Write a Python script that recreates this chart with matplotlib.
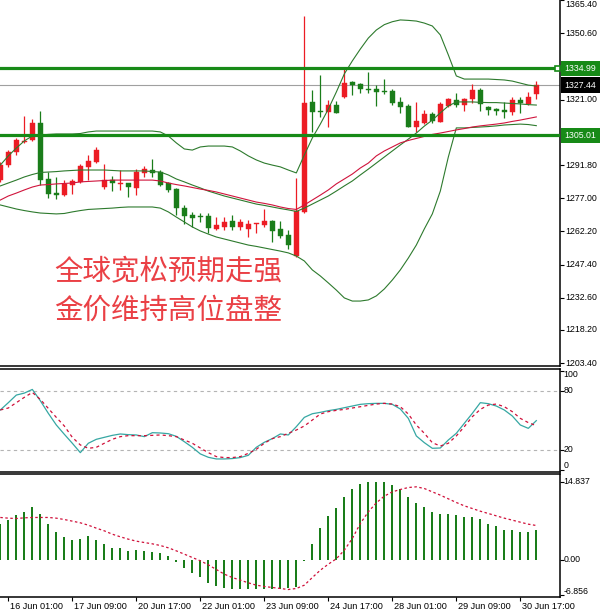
import numpy as np
import matplotlib
matplotlib.use('Agg')
import matplotlib.pyplot as plt
from matplotlib.transforms import blended_transform_factory

# ---------------- data (XAUUSD H4) ----------------
opens = [1285.1, 1291.8, 1297.6, 1301.9, 1303.0, 1310.5, 1285.5, 1279.5, 1278.4, 1282.9,
         1284.4, 1291.1, 1293.0, 1282.2, 1285.1, 1283.4, 1283.7, 1281.4, 1288.1, 1289.6,
         1288.8, 1283.7, 1281.0, 1272.5, 1269.5, 1268.8, 1269.1, 1263.3, 1264.3, 1266.8,
         1264.0, 1263.3, 1265.3, 1265.1, 1266.8, 1263.3, 1260.6, 1251.2, 1271.0, 1320.1,
         1315.9, 1315.4, 1318.6, 1322.1, 1328.8, 1328.0, 1325.8, 1325.6, 1324.9, 1324.9,
         1320.1, 1318.2, 1308.9, 1310.7, 1314.5, 1311.2, 1318.3, 1320.9, 1318.6, 1321.2,
         1325.3, 1317.6, 1316.8, 1316.4, 1315.6, 1320.9, 1319.1, 1323.4]
highs = [1293.2, 1298.5, 1303.9, 1313.7, 1312.2, 1315.9, 1288.8, 1286.4, 1285.1, 1285.6,
         1292.2, 1296.3, 1300.0, 1292.3, 1286.9, 1289.6, 1283.8, 1289.9, 1291.5, 1294.5,
         1289.6, 1284.4, 1281.4, 1274.0, 1271.0, 1270.5, 1270.5, 1268.8, 1268.8, 1269.5,
         1267.6, 1267.3, 1265.8, 1272.1, 1267.3, 1267.0, 1262.8, 1285.9, 1358.5, 1325.3,
         1332.0, 1320.9, 1320.5, 1335.7, 1329.5, 1328.3, 1333.2, 1327.6, 1330.1, 1325.6,
         1322.1, 1319.1, 1319.8, 1316.4, 1315.6, 1319.8, 1321.9, 1323.8, 1321.6, 1328.0,
         1326.1, 1318.2, 1317.2, 1320.1, 1322.3, 1322.3, 1324.3, 1329.5]
lows = [1284.3, 1291.0, 1296.3, 1301.7, 1302.7, 1282.9, 1277.2, 1276.5, 1278.0, 1278.9,
        1283.9, 1285.1, 1292.6, 1281.0, 1280.4, 1280.7, 1277.7, 1278.4, 1286.6, 1286.6,
        1282.6, 1279.9, 1269.5, 1265.5, 1264.3, 1266.5, 1261.3, 1262.8, 1262.8, 1262.8,
        1262.8, 1259.6, 1261.3, 1264.0, 1257.6, 1259.1, 1254.3, 1250.6, 1270.3, 1306.7,
        1313.4, 1308.9, 1314.9, 1321.8, 1323.1, 1323.8, 1323.8, 1318.2, 1323.5, 1318.6,
        1314.9, 1308.6, 1306.7, 1310.1, 1310.7, 1310.9, 1317.9, 1317.9, 1316.1, 1319.7,
        1316.1, 1314.2, 1314.2, 1312.7, 1314.2, 1314.9, 1318.6, 1321.2]
closes = [1291.8, 1297.8, 1303.0, 1302.5, 1310.5, 1285.1, 1278.9, 1278.6, 1283.2, 1284.7,
          1291.5, 1293.6, 1298.5, 1285.1, 1283.7, 1283.8, 1281.9, 1288.8, 1289.9, 1288.1,
          1282.9, 1280.7, 1272.5, 1269.2, 1268.0, 1268.5, 1263.6, 1265.1, 1266.5, 1264.0,
          1266.5, 1265.5, 1265.7, 1266.8, 1262.5, 1260.1, 1256.1, 1271.3, 1319.4, 1315.6,
          1315.4, 1318.6, 1315.2, 1328.3, 1327.6, 1325.6, 1325.3, 1324.6, 1324.4, 1319.7,
          1317.6, 1308.9, 1311.5, 1314.6, 1311.5, 1319.0, 1321.2, 1318.6, 1321.2, 1325.3,
          1319.0, 1316.4, 1316.1, 1315.6, 1320.9, 1319.4, 1322.1, 1327.44]

bb_upper = [1291.8, 1295.9, 1299.4, 1302.6, 1304.8, 1305.2, 1305.5, 1305.7, 1305.7, 1305.7,
            1305.9, 1306.6, 1307.0, 1307.0, 1307.0, 1307.0, 1307.0, 1307.0, 1307.0, 1307.0,
            1306.6, 1304.8, 1301.7, 1299.0, 1298.5, 1299.9, 1300.3, 1300.3, 1300.3, 1299.9,
            1298.1, 1295.9, 1294.1, 1292.7, 1291.8, 1291.0, 1289.6, 1288.3, 1296.3, 1303.9,
            1310.1, 1316.8, 1324.4, 1332.5, 1338.3, 1343.6, 1348.5, 1352.1, 1354.5, 1355.8,
            1356.6, 1356.4, 1356.1, 1355.2, 1353.9, 1349.9, 1341.0, 1331.6, 1330.2, 1330.2,
            1330.2, 1330.2, 1330.0, 1329.8, 1329.3, 1328.4, 1327.5, 1327.1]
bb_middle = [1282.5, 1283.8, 1285.1, 1286.5, 1287.6, 1288.5, 1288.7, 1288.9, 1289.2, 1289.4,
             1289.6, 1289.6, 1289.6, 1289.6, 1289.4, 1289.2, 1289.2, 1289.2, 1289.2, 1288.9,
             1288.7, 1287.4, 1285.6, 1284.3, 1282.9, 1281.6, 1280.2, 1279.1, 1278.0, 1277.1,
             1276.2, 1275.3, 1274.4, 1273.8, 1273.1, 1272.4, 1271.8, 1271.1, 1272.6, 1274.4,
             1276.2, 1278.0, 1280.2, 1282.5, 1284.7, 1287.4, 1290.0, 1292.7, 1295.4, 1298.1,
             1300.8, 1303.4, 1306.1, 1309.2, 1311.9, 1315.1, 1318.2, 1320.0, 1320.0, 1320.0,
             1319.8, 1319.7, 1319.7, 1319.5, 1319.3, 1319.1, 1318.8, 1318.6]
bb_lower = [1274.0, 1273.1, 1272.2, 1271.5, 1270.9, 1270.4, 1270.2, 1270.0, 1270.2, 1270.9,
            1271.5, 1272.0, 1272.2, 1272.4, 1272.6, 1272.9, 1273.1, 1273.1, 1273.1, 1273.1,
            1272.6, 1270.9, 1268.6, 1266.4, 1264.2, 1262.4, 1261.0, 1259.7, 1258.8, 1257.9,
            1257.0, 1256.1, 1255.5, 1254.8, 1254.1, 1253.4, 1252.6, 1251.2, 1249.0, 1245.0,
            1242.3, 1239.2, 1236.0, 1232.5, 1231.1, 1231.1, 1231.6, 1233.4, 1236.5, 1240.5,
            1245.0, 1250.3, 1256.1, 1263.3, 1270.0, 1280.2, 1295.4, 1308.4, 1308.4, 1308.6,
            1308.8, 1309.0, 1309.3, 1309.7, 1309.9, 1310.1, 1309.9, 1309.4]
ma_red = [1276.2, 1278.0, 1279.3, 1280.7, 1282.0, 1282.9, 1283.1, 1283.4, 1283.6, 1283.8,
          1284.3, 1284.5, 1284.7, 1284.9, 1285.1, 1285.1, 1285.1, 1285.1, 1285.1, 1285.1,
          1284.7, 1283.8, 1283.1, 1282.5, 1281.8, 1281.1, 1280.5, 1279.8, 1278.9, 1278.0,
          1277.1, 1276.2, 1275.3, 1274.7, 1274.0, 1273.1, 1272.4, 1272.0, 1274.0, 1276.2,
          1278.4, 1280.7, 1283.4, 1285.6, 1287.8, 1290.5, 1292.7, 1295.9, 1298.1, 1299.9,
          1301.7, 1302.8, 1303.7, 1304.6, 1305.5, 1306.1, 1306.8, 1307.5, 1308.1, 1308.8,
          1309.3, 1309.7, 1310.1, 1310.6, 1311.3, 1311.9, 1312.6, 1313.3]

stoch_k = [60.5, 67.9, 75.6, 77.6, 81.3, 69.9, 57.1, 45.3, 35.9, 26.8,
           17.3, 26.8, 30.8, 32.8, 34.8, 36.2, 35.5, 35.2, 33.5, 37.5,
           37.2, 36.5, 33.8, 28.4, 22.7, 16.0, 12.6, 10.9, 10.9, 11.3,
           12.3, 14.6, 22.7, 27.8, 31.5, 36.2, 35.2, 43.6, 53.0, 56.7,
           58.1, 59.8, 61.1, 62.8, 64.5, 66.2, 66.9, 67.2, 67.2, 66.2,
           61.5, 52.0, 34.2, 27.4, 21.7, 22.0, 30.1, 36.9, 47.0, 57.1,
           67.9, 66.9, 64.5, 60.5, 54.4, 45.3, 41.9, 49.7]
stoch_d = [60.5, 62.5, 67.9, 73.3, 78.3, 71.2, 62.1, 53.0, 44.3, 32.8,
           25.1, 21.7, 22.7, 26.8, 30.8, 33.5, 34.5, 34.5, 34.5, 34.8,
           35.2, 34.5, 33.5, 30.1, 26.8, 22.0, 17.3, 13.3, 12.3, 12.3,
           13.3, 16.6, 20.7, 26.8, 31.5, 33.5, 36.9, 40.2, 44.3, 50.3,
           56.4, 58.8, 60.1, 61.1, 62.5, 63.8, 65.2, 66.5, 67.2, 66.5,
           63.8, 56.4, 45.3, 36.9, 27.4, 24.0, 26.8, 34.2, 43.6, 53.7,
           61.1, 65.5, 66.5, 63.8, 58.8, 52.0, 47.7, 44.6]

macd_hist = [6.87, 7.51, 8.46, 9.03, 9.99, 8.65, 6.74, 5.22, 4.26, 3.69,
             3.82, 4.45, 3.69, 2.93, 2.16, 2.10, 1.59, 1.78, 1.59, 1.46,
             1.21, 0.64, -0.51, -1.53, -2.67, -3.31, -4.45, -5.09, -5.53, -5.60,
             -5.60, -5.60, -5.60, -5.60, -5.60, -5.60, -5.41, -5.22, -0.25, 3.05,
             5.92, 8.27, 9.86, 11.90, 13.49, 14.38, 14.76, 14.837, 14.76, 14.19,
             13.49, 11.96, 10.81, 10.05, 9.03, 8.65, 8.65, 8.46, 8.14, 8.14,
             7.70, 6.87, 6.36, 5.60, 5.60, 5.22, 5.22, 5.60]
macd_signal = [8.02, 7.89, 7.82, 7.95, 8.02, 8.02, 8.02, 7.89, 7.63, 7.32,
               7.00, 6.55, 5.98, 5.47, 4.83, 4.33, 3.88, 3.50, 3.24, 2.99,
               2.67, 2.23, 1.65, 1.02, 0.38, -0.25, -1.02, -1.91, -2.80, -3.44,
               -3.94, -4.45, -4.90, -5.15, -5.34, -5.53, -5.73, -5.53, -4.90, -3.44,
               -2.04, -0.89, 0.13, 1.78, 4.01, 6.87, 9.10, 10.81, 12.09, 12.91,
               13.36, 13.74, 13.87, 13.55, 12.91, 12.28, 11.58, 10.88, 10.24, 9.73,
               9.22, 8.78, 8.33, 7.89, 7.51, 7.12, 6.74, 6.49]

time_labels = ['16 Jun 01:00', '17 Jun 09:00', '20 Jun 17:00', '22 Jun 01:00', '23 Jun 09:00',
               '24 Jun 17:00', '28 Jun 01:00', '29 Jun 09:00', '30 Jun 17:00']
time_label_bars = [1, 9, 17, 25, 33, 41, 49, 57, 65]

price_ticks = [1365.40, 1350.60, 1321.00, 1291.80, 1277.00, 1262.20, 1247.40, 1232.60, 1218.20, 1203.40]
resistance_level = 1334.99
support_level = 1305.01
last_price = 1327.44
stoch_levels = [80, 20]
stoch_ticks = [100, 80, 20, 0]
macd_ticks = [14.837, 0.00, -6.856]

title_lines = ['全球宽松预期走强', '金价维持高位盘整']

# ---------------- style ----------------
UP = '#ec1c24'
DOWN = '#1a7d1a'
LINE_GREEN = '#2d7a2d'
HGREEN = '#178a17'
RED_MA = '#d0143c'
LBL_FONT = 'Liberation Sans'
LBL_SIZE = 6.3

W, H = 600, 616
fig = plt.figure(figsize=(W / 100, H / 100), dpi=100)
fig.patch.set_facecolor('white')


def axes_px(top, bottom, right=560):
    return fig.add_axes([0, 1 - bottom / H, right / W, (bottom - top) / H])


ax1 = axes_px(0, 366)
ax2 = axes_px(369, 471.7)
ax3 = axes_px(474, 597)

n = len(closes)
x = np.arange(n)
xmin, xmax = -0.04, 69.96
for a in (ax1, ax2, ax3):
    a.set_xlim(xmin, xmax)
    a.set_facecolor('white')
    a.spines['left'].set_visible(False)
    for s in ('right', 'top', 'bottom'):
        a.spines[s].set_linewidth(1.1)
        a.spines[s].set_color('black')
    a.yaxis.tick_right()
    a.tick_params(axis='y', length=3, width=0.8, labelright=False, labelleft=False, direction='out')
    a.tick_params(axis='x', length=0, labelbottom=False)
ax1.spines['top'].set_visible(False)

# ---------------- main panel ----------------
ax1.set_ylim(1365.5 - 366 / 2.24, 1365.5)
o = np.array(opens); c = np.array(closes); h = np.array(highs); l = np.array(lows)
cols = [UP if cc >= oo else DOWN for oo, cc in zip(o, c)]
ax1.vlines(x, l, h, colors=cols, linewidth=0.9, zorder=2)
body_bot = np.minimum(o, c)
body_h = np.maximum(np.abs(c - o), 0.45)
ax1.bar(x, body_h, bottom=body_bot, width=0.58, color=cols, edgecolor=cols, linewidth=0.3, zorder=3)

ax1.plot(x, bb_upper, color=LINE_GREEN, lw=0.8, zorder=4)
ax1.plot(x, bb_middle, color=LINE_GREEN, lw=0.8, zorder=4)
ax1.plot(x, bb_lower, color=LINE_GREEN, lw=0.8, zorder=4)
ax1.plot(x, ma_red, color=RED_MA, lw=0.8, zorder=4)

ax1.axhline(last_price, color='#a0a0a0', lw=0.8, zorder=1)
ax1.axhline(resistance_level, color=HGREEN, lw=2.3, zorder=5)
ax1.axhline(support_level, color=HGREEN, lw=2.3, zorder=5)

tr1 = blended_transform_factory(ax1.transAxes, ax1.transData)
ax1.plot([0.9945], [resistance_level], marker='s', ms=3.6, mfc='white', mec=HGREEN, mew=1.2,
         transform=tr1, zorder=6, clip_on=False)

ax1.set_yticks(price_ticks)
for v in price_ticks:
    dy = -3.2 if v == price_ticks[0] else 0
    ax1.annotate(f'{v:.2f}', xy=(1, v), xycoords=tr1, xytext=(4.0, dy), textcoords='offset points',
                 ha='left', va='center', fontsize=LBL_SIZE, family=LBL_FONT, color='black',
                 annotation_clip=False)

for v, fc in ((resistance_level, HGREEN), (last_price, 'black'), (support_level, HGREEN)):
    ax1.annotate(f'{v:.2f}', xy=(1, v), xycoords=tr1, xytext=(3.4, 0), textcoords='offset points',
                 ha='left', va='center', fontsize=LBL_SIZE, family=LBL_FONT, color='white',
                 bbox=dict(boxstyle='square,pad=0.38', fc=fc, ec='none'), zorder=10,
                 annotation_clip=False)

ax1.text(0.301, 0.255, title_lines[0], transform=ax1.transAxes, ha='center', va='center',
         fontsize=20.5, color='#ea4045', family=['Noto Sans CJK SC', 'DejaVu Sans'], fontweight='light')
ax1.text(0.301, 0.150, title_lines[1], transform=ax1.transAxes, ha='center', va='center',
         fontsize=20.5, color='#ea4045', family=['Noto Sans CJK SC', 'DejaVu Sans'], fontweight='light')

# ---------------- stochastic ----------------
ax2.set_ylim(-2, 102)
for lv in stoch_levels:
    ax2.axhline(lv, color='#b4b4b4', lw=0.8, ls=(0, (3, 3)), zorder=1)
ax2.plot(x, stoch_k, color='#36a7a3', lw=0.9, zorder=3)
ax2.plot(x, stoch_d, color='#d0103a', lw=0.9, ls=(0, (2.5, 2.5)), zorder=3)
ax2.set_yticks(stoch_ticks)
tr2 = blended_transform_factory(ax2.transAxes, ax2.transData)
for v in stoch_ticks:
    dy = -2.5 if v == 100 else (3.0 if v == 0 else 0)
    ax2.annotate(f'{v}', xy=(1, v), xycoords=tr2, xytext=(2.5, dy), textcoords='offset points',
                 ha='left', va='center', fontsize=LBL_SIZE, family=LBL_FONT, annotation_clip=False)

# ---------------- MACD ----------------
ax3.set_ylim(-(597 - 559.5) / 5.24, (559.5 - 474) / 5.24)
ax3.bar(x, macd_hist, width=0.24, color=DOWN, zorder=2)
ax3.plot(x, macd_signal, color='#d0103a', lw=0.9, ls=(0, (2, 2)), zorder=3)
ax3.set_yticks(macd_ticks)
tr3 = blended_transform_factory(ax3.transAxes, ax3.transData)
for v in macd_ticks:
    dy = 2.5 if v < 0 else 0
    ax3.annotate(f'{v:.3f}' if v != 0 else '0.00', xy=(1, v), xycoords=tr3, xytext=(2.5, dy),
                 textcoords='offset points', ha='left', va='center', fontsize=LBL_SIZE,
                 family=LBL_FONT, annotation_clip=False)

ax3.set_xticks(time_label_bars)
ax3.tick_params(axis='x', length=3, width=0.8, direction='out')
tr3x = blended_transform_factory(ax3.transData, ax3.transAxes)
for b, lab in zip(time_label_bars, time_labels):
    ax3.annotate(lab, xy=(b, 0), xycoords=tr3x, xytext=(1.5, -3.5), textcoords='offset points',
                 ha='left', va='top', fontsize=LBL_SIZE + 0.3, family=LBL_FONT, annotation_clip=False)

fig.savefig('out.png', dpi=100, facecolor='white')
